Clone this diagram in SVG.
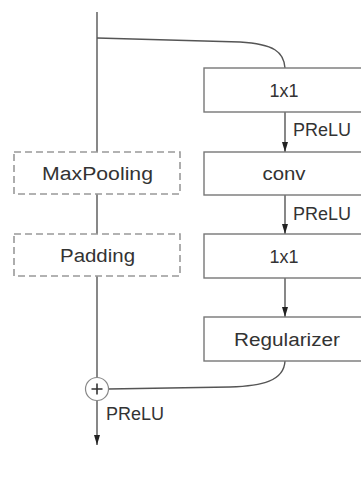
<svg xmlns="http://www.w3.org/2000/svg" width="361" height="482" viewBox="0 0 361 482">
<defs>
<marker id="ah" markerWidth="10" markerHeight="8" refX="10" refY="4" orient="auto" markerUnits="userSpaceOnUse">
<path d="M0,1 L10,4 L0,7 Z" fill="#222"/>
</marker>
<style>
.box{fill:#fff;stroke:#777;stroke-width:1.4}
.dbox{fill:#fff;stroke:#999;stroke-width:1.6;stroke-dasharray:7,4}
.ln{fill:none;stroke:#555;stroke-width:1.4}
.t{font-family:"Liberation Sans",Arial,sans-serif;font-size:18px;fill:#333;text-anchor:middle}
.lb{font-family:"Liberation Sans",Arial,sans-serif;font-size:18px;fill:#333}
</style>
</defs>
<rect width="361" height="482" fill="#fff"/>
<g id="connectors">
<path class="ln" d="M97,12 L97,378"/>
<path class="ln" d="M97,401 L97,445" marker-end="url(#ah)"/>
<path class="ln" d="M97,38 L240,42 C274,44 284,52 285,68"/>
<path class="ln" d="M285,112 L285,152" marker-end="url(#ah)"/>
<path class="ln" d="M285,195 L285,234" marker-end="url(#ah)"/>
<path class="ln" d="M285,278 L285,317" marker-end="url(#ah)"/>
<path class="ln" d="M285,361 C284,381 262,386 230,387 L108,389"/>
<text class="lb" x="293" y="136">PReLU</text>
<text class="lb" x="293" y="220">PReLU</text>
<text class="lb" x="106" y="420">PReLU</text>
</g>
<g id="n1x1a"><rect class="box" x="204" y="68" width="162" height="44"/><text class="t" x="284" y="97" textLength="29" lengthAdjust="spacingAndGlyphs">1x1</text></g>
<g id="nconv"><rect class="box" x="204" y="152" width="162" height="43"/><text class="t" x="284" y="180" textLength="43" lengthAdjust="spacingAndGlyphs">conv</text></g>
<g id="n1x1b"><rect class="box" x="204" y="234" width="162" height="44"/><text class="t" x="284" y="263" textLength="29" lengthAdjust="spacingAndGlyphs">1x1</text></g>
<g id="nreg"><rect class="box" x="204" y="317" width="162" height="44"/><text class="t" x="287" y="346" textLength="106" lengthAdjust="spacingAndGlyphs">Regularizer</text></g>
<g id="nmax"><rect class="dbox" x="14" y="152" width="166" height="42"/><text class="t" x="97.5" y="180" textLength="111" lengthAdjust="spacingAndGlyphs">MaxPooling</text></g>
<g id="npad"><rect class="dbox" x="14" y="234" width="166" height="42"/><text class="t" x="97.5" y="262" textLength="75" lengthAdjust="spacingAndGlyphs">Padding</text></g>
<g id="nplus"><circle cx="97" cy="389" r="11.5" fill="#fff" stroke="#888" stroke-width="1.2"/><path d="M91.5,389 H102.5 M97,383.5 V394.5" stroke="#333" stroke-width="1.6"/></g>
</svg>
